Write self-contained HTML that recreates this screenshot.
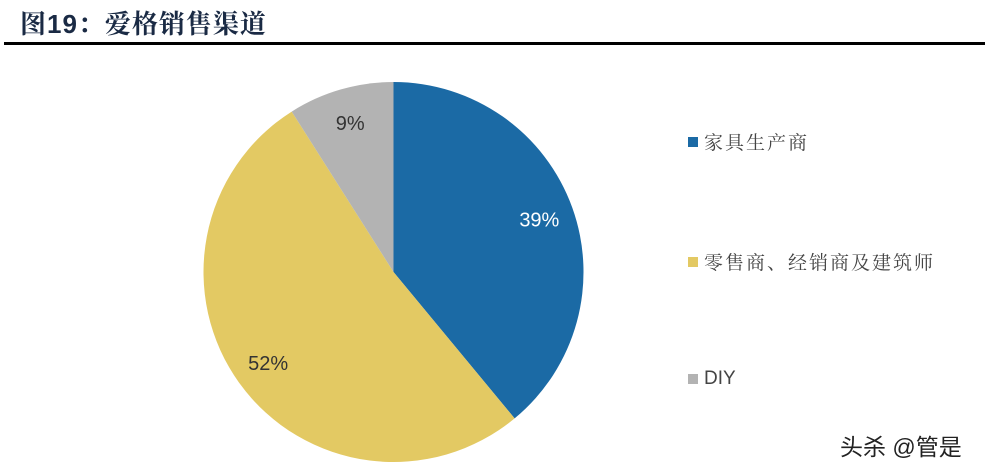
<!DOCTYPE html>
<html><head><meta charset="utf-8"><style>
body{margin:0;background:#fff;width:985px;height:473px;overflow:hidden;position:relative;font-family:"Liberation Sans","Noto Sans CJK SC",sans-serif}
.title{position:absolute;left:20px;top:4px;font-size:26px;font-weight:bold;color:#1a2a44;font-family:"Liberation Sans","Noto Serif CJK SC",serif;letter-spacing:1px}
.rule{position:absolute;left:4px;top:42px;width:981px;height:3px;background:#000}
.leg{position:absolute;left:688px;font-size:19px;color:#444;font-family:"Liberation Sans","Noto Serif CJK SC",serif;display:flex;align-items:center;letter-spacing:2px}
.sw{width:10px;height:10px;margin-right:6px}
.wm{position:absolute;left:840px;top:428px;font-size:23px;color:#222;font-family:"Liberation Sans","Noto Sans CJK SC",sans-serif}
</style></head><body>
<div class="title">图19：爱格销售渠道</div>
<div class="rule"></div>
<svg width="985" height="473" style="position:absolute;left:0;top:0" id="pie"></svg>
<div class="leg" style="top:128px"><div class="sw" style="background:#1b6aa5"></div>家具生产商</div>
<div class="leg" style="top:248px"><div class="sw" style="background:#e3c963"></div>零售商、经销商及建筑师</div>
<div class="leg" style="top:368px;font-family:'Liberation Sans',sans-serif;letter-spacing:0"><div class="sw" style="background:#b3b3b3"></div>DIY</div>
<div class="wm">头杀 @管是</div>
<script>
const categories=["家具生产商","零售商、经销商及建筑师","DIY"];
const values=[39,52,9];
const colors=["#1b6aa5","#e3c963","#b3b3b3"];
const labelColors=["#ffffff","#333333","#333333"];
const svg=document.getElementById('pie');
const NS="http://www.w3.org/2000/svg";
const cx=393.5,cy=272,r=190,lr=155;
const total=values.reduce((a,b)=>a+b,0);
let a0=0;
values.forEach((v,i)=>{
  const a1=a0+v/total*2*Math.PI;
  const x0=cx+r*Math.sin(a0),y0=cy-r*Math.cos(a0),x1=cx+r*Math.sin(a1),y1=cy-r*Math.cos(a1);
  const p=document.createElementNS(NS,'path');
  p.setAttribute('d',`M${cx},${cy}L${x0},${y0}A${r},${r} 0 ${a1-a0>Math.PI?1:0} 1 ${x1},${y1}Z`);
  p.setAttribute('fill',colors[i]);
  
  
  svg.appendChild(p);
  const am=(a0+a1)/2;
  const t=document.createElementNS(NS,'text');
  t.setAttribute('x',cx+lr*Math.sin(am));
  t.setAttribute('y',cy-lr*Math.cos(am)+7);
  t.setAttribute('text-anchor','middle');
  t.setAttribute('font-size','20');
  t.setAttribute('font-family','Liberation Sans, sans-serif');
  t.setAttribute('fill',labelColors[i]);
  t.textContent=v+'%';
  
  
  svg.appendChild(t);
  a0=a1;
});
</script>
</body></html>
